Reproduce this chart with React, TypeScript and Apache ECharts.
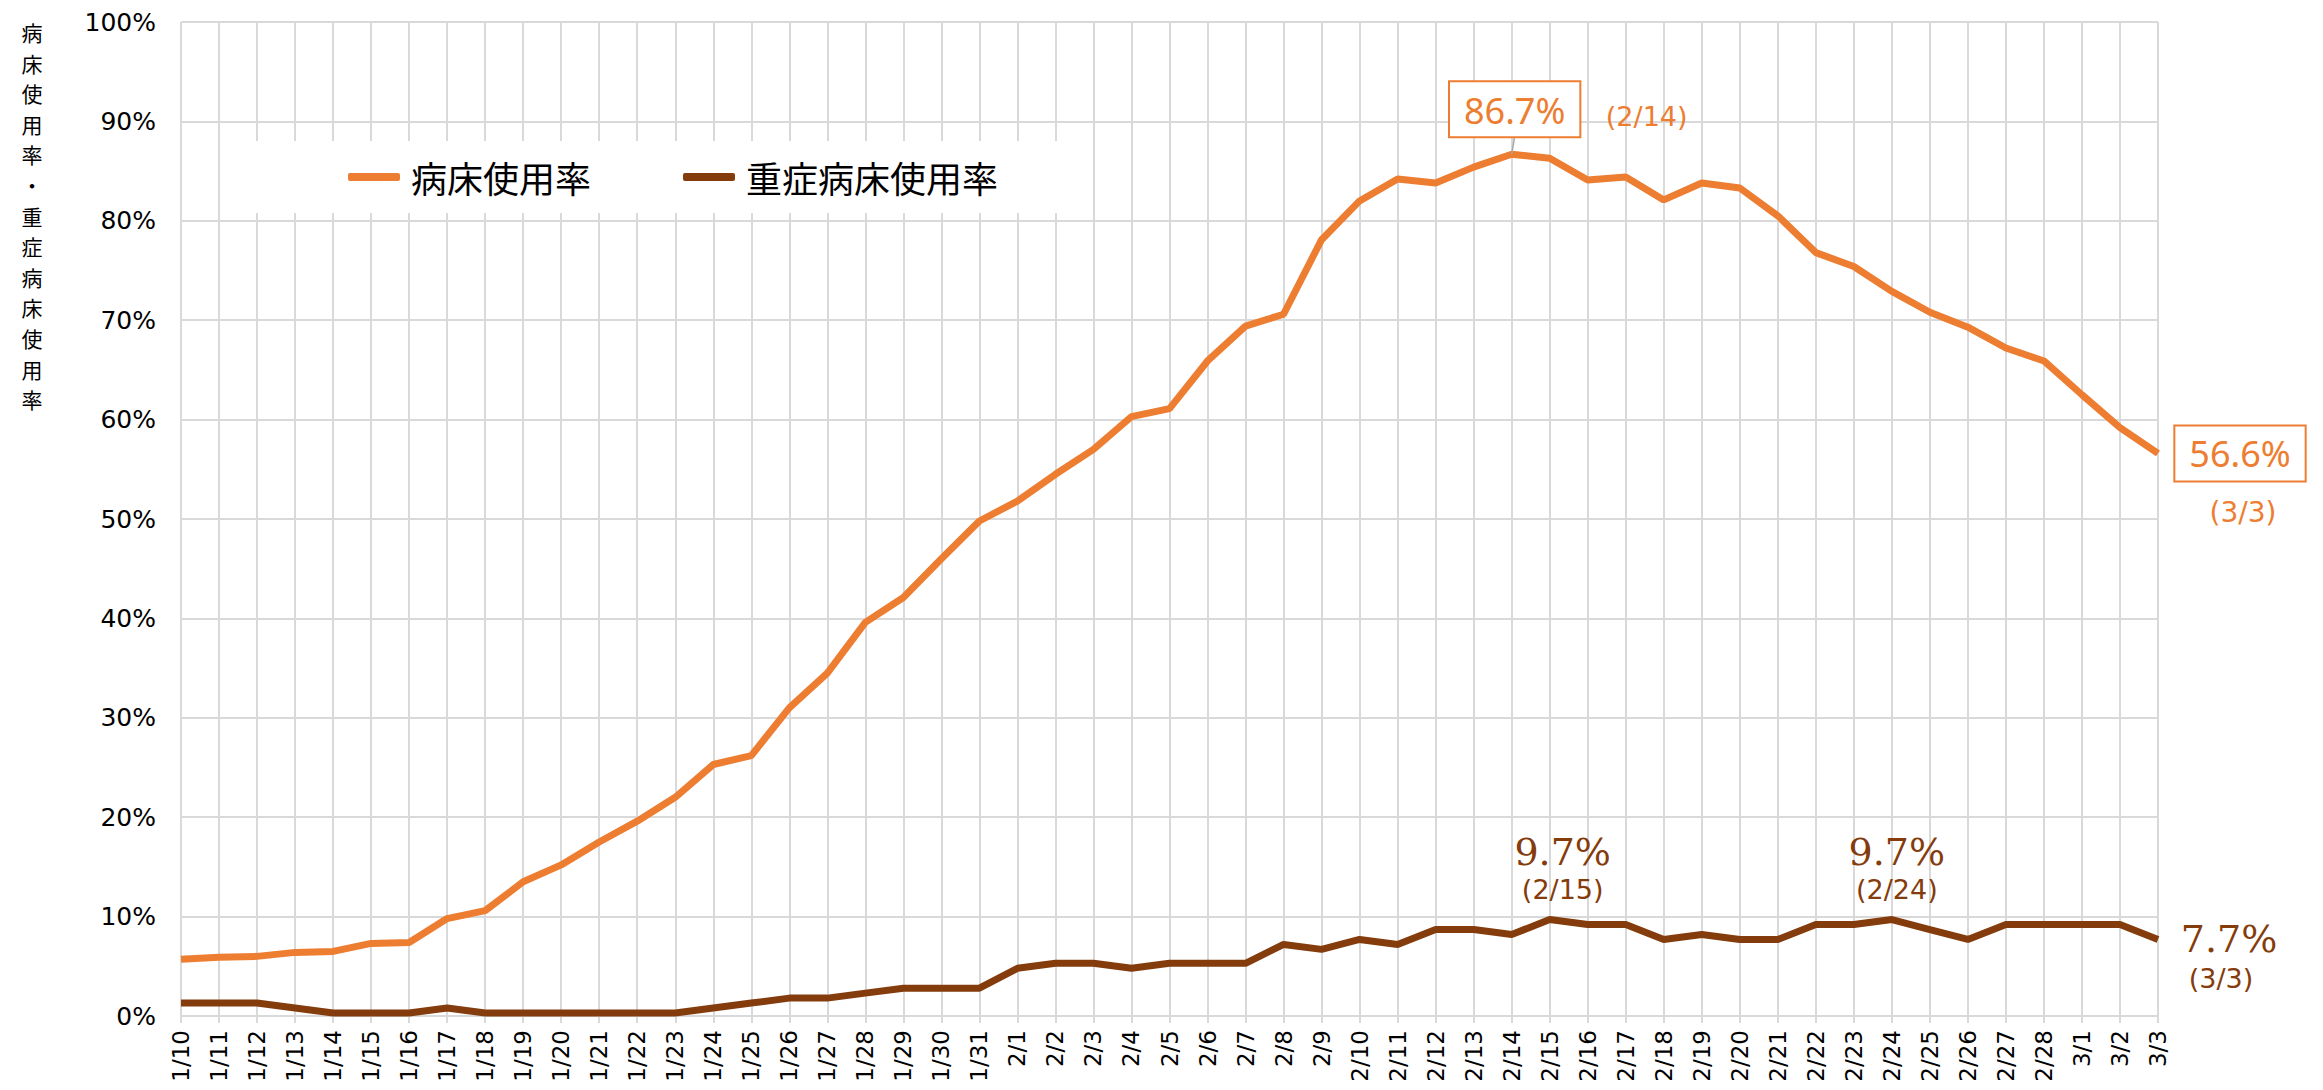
import React, { useEffect, useRef } from "react";
import * as echarts from "echarts";

const categories: string[] = [
  "1/10","1/11","1/12","1/13","1/14","1/15","1/16","1/17","1/18","1/19","1/20","1/21","1/22","1/23","1/24","1/25","1/26","1/27","1/28","1/29","1/30","1/31",
  "2/1","2/2","2/3","2/4","2/5","2/6","2/7","2/8","2/9","2/10","2/11","2/12","2/13","2/14","2/15","2/16","2/17","2/18","2/19","2/20","2/21","2/22","2/23","2/24","2/25","2/26","2/27","2/28",
  "3/1","3/2","3/3",
];

const bedRate: number[] = [
  5.7, 5.9, 6.0, 6.4, 6.5, 7.3, 7.4, 9.8, 10.6, 13.5, 15.2, 17.5, 19.6, 22.0, 25.3, 26.2, 31.0, 34.5, 39.6, 42.1, 46.0, 49.8,
  51.8, 54.5, 57.0, 60.3, 61.1, 65.9, 69.4, 70.6, 78.1, 82.0, 84.2, 83.8, 85.4, 86.7, 86.3, 84.1, 84.4, 82.1, 83.8, 83.3, 80.5, 76.8, 75.4, 72.9, 70.8, 69.3, 67.2, 65.9,
  62.5, 59.2, 56.6,
];

const severeRate: number[] = [
  1.3, 1.3, 1.3, 0.8, 0.3, 0.3, 0.3, 0.8, 0.3, 0.3, 0.3, 0.3, 0.3, 0.3, 0.8, 1.3, 1.8, 1.8, 2.3, 2.8, 2.8, 2.8,
  4.8, 5.3, 5.3, 4.8, 5.3, 5.3, 5.3, 7.2, 6.7, 7.7, 7.2, 8.7, 8.7, 8.2, 9.7, 9.2, 9.2, 7.7, 8.2, 7.7, 7.7, 9.2, 9.2, 9.7, 8.7, 7.7, 9.2, 9.2,
  9.2, 9.2, 7.7,
];

const seriesNames: string[] = ["病床使用率", "重症病床使用率"];
const yAxisTitle = "病床使用率・重症病床使用率";

const ORANGE = "#ED7D31";
const BROWN = "#843C0C";
const GRID = "#D9D9D9";
const JP = "'Noto Sans CJK JP', 'Noto Sans', sans-serif";
const NUM = "'DejaVu Sans', 'Noto Sans', sans-serif";
const BOXNUM = "'Noto Sans', 'DejaVu Sans', sans-serif";
const SERIF = "'DejaVu Serif', 'Liberation Serif', serif";

export default function App() {
  const ref = useRef<HTMLDivElement>(null);

  useEffect(() => {
    document.body.style.margin = "0";
    const chart = echarts.init(ref.current!, null, { renderer: "svg" });
    chart.setOption({
      animation: false,
      backgroundColor: "#fff",
      grid: { left: 181, right: 165, top: 22, bottom: 74, containLabel: false },
      legend: {
        data: seriesNames,
        left: 230,
        top: 141,
        orient: "horizontal",
        backgroundColor: "#fff",
        padding: [18, 90, 18, 118],
        itemGap: 92,
        itemWidth: 52,
        itemHeight: 8,
        icon: "roundRect",
        textStyle: { fontFamily: JP, fontSize: 36, color: "#000", padding: [0, 0, 0, 6] },
        z: 5,
      },
      xAxis: {
        type: "category",
        boundaryGap: false,
        data: categories,
        axisLine: { show: true, lineStyle: { color: GRID, width: 2 } },
        axisTick: { show: true, alignWithLabel: true, length: 7, lineStyle: { color: GRID, width: 2 } },
        splitLine: { show: true, lineStyle: { color: GRID, width: 2 } },
        axisLabel: {
          interval: 0,
          rotate: 90,
          margin: 14,
          fontFamily: NUM,
          fontSize: 23,
          color: "#000",
        },
      },
      yAxis: {
        type: "value",
        min: 0,
        max: 100,
        interval: 10,
        axisLine: { show: false },
        axisTick: { show: false },
        splitLine: { show: true, lineStyle: { color: GRID, width: 2 } },
        axisLabel: {
          formatter: "{value}%",
          margin: 25,
          fontFamily: NUM,
          fontSize: 25,
          color: "#000",
        },
      },
      series: [
        {
          name: seriesNames[0],
          type: "line",
          data: bedRate,
          symbol: "none",
          color: ORANGE,
          lineStyle: { width: 7, color: ORANGE },
          z: 3,
        },
        {
          name: seriesNames[1],
          type: "line",
          data: severeRate,
          symbol: "none",
          color: BROWN,
          lineStyle: { width: 7, color: BROWN },
          z: 3,
        },
      ],
    });

    const pt = (s: number, cat: string, arr: number[]) => {
      const i = categories.indexOf(cat);
      return chart.convertToPixel({ seriesIndex: s }, [i, arr[i]]) as number[];
    };
    const pct = (v: number) => v.toFixed(1) + "%";

    const peakCat = "2/14";
    const lastCat = "3/3";
    const p1 = pt(0, peakCat, bedRate);
    const p2 = pt(0, lastCat, bedRate);
    const s1 = pt(1, "2/15", severeRate);
    const s2 = pt(1, "2/24", severeRate);
    const s3 = pt(1, lastCat, severeRate);
    const v = (arr: number[], c: string) => arr[categories.indexOf(c)];

    const bigBox = (x: number, y: number, text: string, vAlign: string) => ({
      type: "text",
      x,
      y,
      z: 10,
      style: {
        text,
        fill: ORANGE,
        font: `36px ${BOXNUM}`,
        align: "center",
        verticalAlign: vAlign,
        backgroundColor: "#fff",
        borderColor: ORANGE,
        borderWidth: 2,
        padding: [10, 14, 8, 14],
      },
    });
    const small = (x: number, y: number, text: string, color: string, font: string, align = "center") => ({
      type: "text",
      x,
      y,
      z: 10,
      style: { text, fill: color, font, align, verticalAlign: "middle" },
    });

    const titleChars = yAxisTitle.split("");
    const titleEls = titleChars.map((ch, k) => ({
      type: "text",
      x: 32,
      y: 32 + k * 30.6,
      style: {
        text: ch,
        fill: "#000",
        font: `21px ${JP}`,
        align: "center",
        verticalAlign: "middle",
      },
    }));

    chart.setOption({
      graphic: [
        ...titleEls,
        {
          type: "line",
          z: 9,
          shape: { x1: p1[0], y1: p1[1], x2: p1[0] + 3, y2: p1[1] - 18 },
          style: { stroke: "#A6A6A6", lineWidth: 1.5 },
        },
        bigBox(p1[0] + 3, p1[1] - 18, pct(v(bedRate, peakCat)), "bottom"),
        small(p1[0] + 135, p1[1] - 38, `(${peakCat})`, ORANGE, `27px ${NUM}`),
        bigBox(p2[0] + 82, p2[1], pct(v(bedRate, lastCat)), "middle"),
        small(p2[0] + 85, p2[1] + 59, `(${lastCat})`, ORANGE, `28px ${NUM}`),
        small(s1[0] + 13, s1[1] - 68, pct(v(severeRate, "2/15")), BROWN, `38px ${SERIF}`),
        small(s1[0] + 13, s1[1] - 30, "(2/15)", BROWN, `27px ${NUM}`),
        small(s2[0] + 5, s2[1] - 68, pct(v(severeRate, "2/24")), BROWN, `38px ${SERIF}`),
        small(s2[0] + 5, s2[1] - 30, "(2/24)", BROWN, `27px ${NUM}`),
        small(s3[0] + 71, s3[1], pct(v(severeRate, lastCat)), BROWN, `38px ${SERIF}`),
        small(s3[0] + 63, s3[1] + 39, `(${lastCat})`, BROWN, `27px ${NUM}`),
      ],
    });

    return () => chart.dispose();
  }, []);

  return <div ref={ref} style={{ width: 2323, height: 1090 }} />;
}
